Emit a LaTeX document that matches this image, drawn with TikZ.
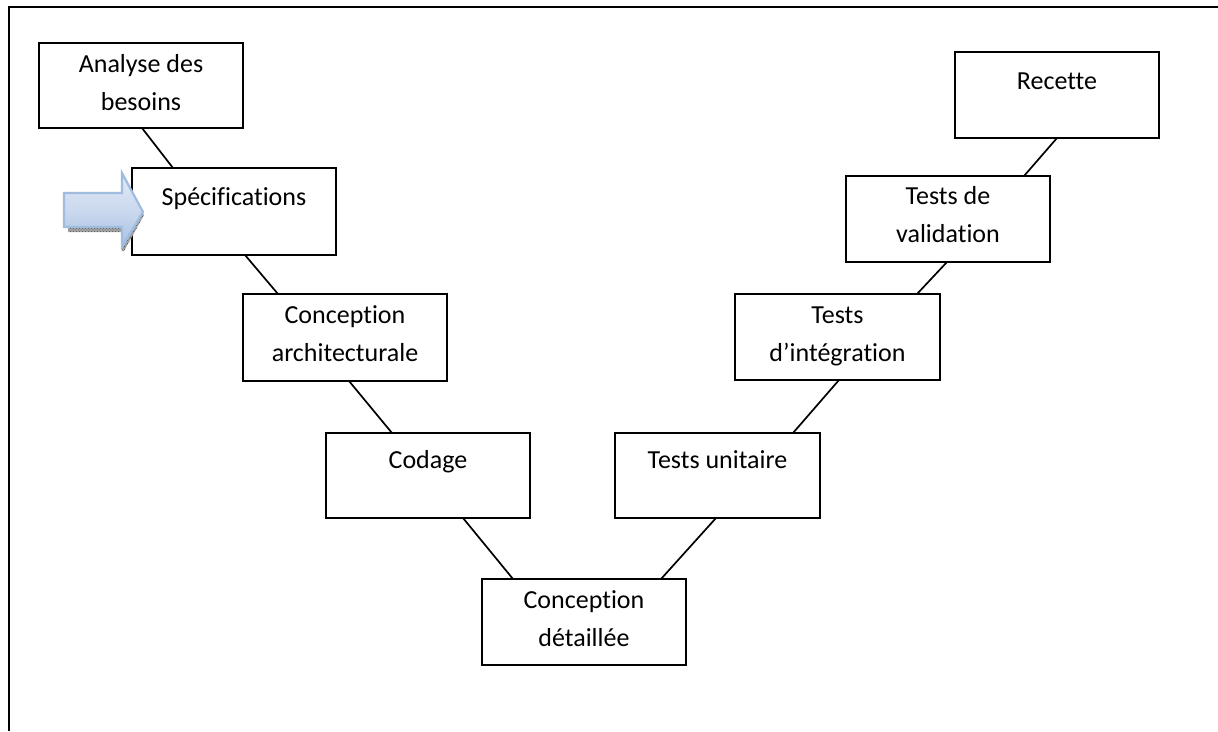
\documentclass[tikz,border=0pt]{standalone}
\usepackage{fontspec}
\setmainfont{Carlito}[Ligatures=NoCommon]
\usetikzlibrary{calc,patterns}
\newcommand{\boxtxt}[4]{\parbox[c][#1pt][t]{#2pt}{\centering\fontsize{26}{38.5}\selectfont\rule{0pt}{#3pt}#4\par}}
\definecolor{arrowedge}{HTML}{A0BCDE}
\definecolor{arrowtop}{HTML}{E2EAF6}
\definecolor{arrowmid}{HTML}{CBD9EE}
\definecolor{arrowbot}{HTML}{A6C0E3}
\tikzset{
  stage/.style={draw=black,line width=2pt,inner sep=0pt,outer sep=0pt,fill=white,anchor=north west},
  link/.style={draw=black,line width=1.7pt},
  frameline/.style={draw=black,line width=2.4pt},
  arrowface/.style={draw=arrowedge,line width=2.2pt,top color=arrowtop,bottom color=arrowbot,middle color=arrowmid},
  arrowshade/.style={fill=black!35,draw=none},
  arrowdots/.style={pattern=crosshatch dots,pattern color=black!70,draw=none}
}
\begin{document}
\begin{tikzpicture}[x=1pt,y=-1pt]
\useasboundingbox (0,0) rectangle (1218,731);
\fill[white] (0,0) rectangle (1218,731);
\coordinate (ftr) at (1218,7);
\coordinate (ftl) at (9,7);
\coordinate (fbl) at (9,731);
\draw[frameline] (ftr) -- (ftl) -- (fbl);
\node[stage] (an) at (39,43) {\boxtxt{85}{204}{29}{Analyse des\\besoins}};
\node[stage] (sp) at (132,168) {\boxtxt{87}{204}{37}{Spécifications}};
\node[stage] (ca) at (243,294) {\boxtxt{87}{204}{29}{Conception\\architecturale}};
\node[stage] (co) at (326,433) {\boxtxt{85}{204}{35}{Codage}};
\node[stage] (cd) at (482,579) {\boxtxt{86}{204}{29}{Conception\\détaillée}};
\node[stage] (tu) at (615,433) {\boxtxt{85}{205}{35}{Tests unitaire}};
\node[stage] (ti) at (735,294) {\boxtxt{86}{205}{29}{Tests\\d’intégration}};
\node[stage] (tv) at (846,176) {\boxtxt{86}{204}{28}{Tests de\\validation}};
\node[stage] (re) at (955,52) {\boxtxt{86}{204}{37}{Recette}};
\draw[link] ([xshift=103pt]an.south west) -- ([xshift=41pt]sp.north west);
\draw[link] ([xshift=113pt]sp.south west) -- ([xshift=35pt]ca.north west);
\draw[link] ([xshift=106pt]ca.south west) -- ([xshift=66pt]co.north west);
\draw[link] ([xshift=137pt]co.south west) -- ([xshift=31pt]cd.north west);
\draw[link] ([xshift=101pt]tu.south west) -- ([xshift=179pt]cd.north west);
\draw[link] ([xshift=178pt]tu.north west) -- ([xshift=104pt]ti.south west);
\draw[link] ([xshift=182pt]ti.north west) -- ([xshift=101pt]tv.south west);
\draw[link] ([xshift=178pt]tv.north west) -- ([xshift=102pt]re.south west);
\path[arrowshade] (68,227) -- (122,227) -- (122,247) -- (142,212) -- (144,215) -- (124,251) -- (122,251) -- (122,232) -- (68,232) -- cycle;
\path[arrowdots] (68,227) -- (122,227) -- (122,247) -- (142,212) -- (144,215) -- (124,251) -- (122,251) -- (122,232) -- (68,232) -- cycle;
\path[arrowface] (64,193) -- (122,193) -- (122,173) -- (143,212) -- (122,247) -- (122,227) -- (64,227) -- cycle;
\end{tikzpicture}
\end{document}
